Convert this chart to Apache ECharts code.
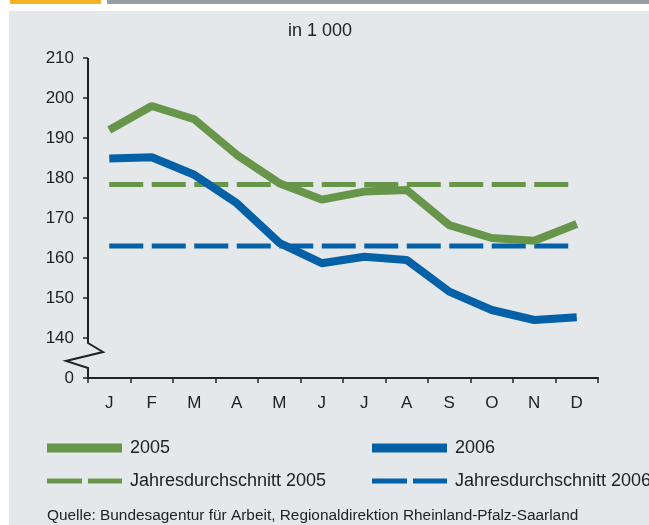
<!DOCTYPE html>
<html lang="de">
<head>
<meta charset="UTF-8">
<title>Arbeitslose Rheinland-Pfalz 2005/2006</title>
<script src="https://cdn.jsdelivr.net/npm/echarts@6/dist/echarts.min.js"></script>
<style>
  body { margin: 0; background: #fff; }
  .wrap { position: relative; width: 649px; height: 525px; overflow: hidden; }
  .panel { position: absolute; left: 9px; top: 11px; width: 640px; height: 514px; background: #e4e8eb; }
  .bar-o { position: absolute; left: 10px; top: 0; width: 91px; height: 4px; background: #f5b323; }
  .bar-g { position: absolute; left: 107px; top: 0; width: 542px; height: 4px; background: #979da3; }
  #chart { position: absolute; left: 0; top: 0; width: 649px; height: 525px; }
</style>
</head>
<body>
<div class="wrap">
  <div class="panel"></div>
  <div class="bar-o"></div>
  <div class="bar-g"></div>
  <div id="chart"></div>
</div>
<script>
// values in 1 000
var months = ['J', 'F', 'M', 'A', 'M', 'J', 'J', 'A', 'S', 'O', 'N', 'D'];
var y2005 = [192, 198, 194.7, 185.8, 178.7, 174.6, 176.6, 177, 168.2, 165, 164.3, 168.5];
var y2006 = [184.9, 185.2, 180.8, 173.7, 163.8, 158.7, 160.3, 159.5, 151.6, 147, 144.5, 145.2];
var avg2005 = 178.4;
var avg2006 = 163;
var yTicks = [130, 140, 150, 160, 170, 180, 190, 200, 210]; // 130 stands for the broken axis "0"

var green = '#67954a';
var blue = '#0461a8';
var ink = '#222222';
var font = "'Liberation Sans', Arial, sans-serif";

var chart = echarts.init(document.getElementById('chart'));

function legendAt(name, icon, h, left, top) {
  return {
    data: [{ name: name, icon: icon }],
    left: left, top: top, padding: 0,
    itemWidth: 75, itemHeight: h, itemGap: 0,
    selectedMode: false,
    itemStyle: { borderWidth: 0 },
    textStyle: { fontFamily: font, fontSize: 18, color: ink, padding: [0, 0, 0, 3] }
  };
}
var dashIcon = 'path://M0,0h35v5h-35z M41,0h34v5h-34z';

var option = {
  animation: false,
  title: [
    { text: 'in 1 000', left: 288, top: 22, padding: 0,
      textStyle: { fontFamily: font, fontSize: 18, fontWeight: 'normal', color: ink } },
    { text: 'Quelle: Bundesagentur für Arbeit, Regionaldirektion Rheinland-Pfalz-Saarland', left: 47, top: 508, padding: 0,
      textStyle: { fontFamily: font, fontSize: 15.4, fontWeight: 'normal', color: ink } }
  ],
  legend: [
    legendAt('2005', 'rect', 9, 47, 439),
    legendAt('2006', 'rect', 9, 372, 439),
    legendAt('Jahresdurchschnitt 2005', dashIcon, 5, 47, 472),
    legendAt('Jahresdurchschnitt 2006', dashIcon, 5, 372, 472)
  ],
  grid: { left: 88, right: 51, top: 58, bottom: 147 },
  xAxis: {
    type: 'category',
    data: months,
    boundaryGap: true,
    axisLine: { lineStyle: { color: ink, width: 2 } },
    axisTick: { show: true, length: 5, interval: 0, lineStyle: { color: ink, width: 1.5 } },
    axisLabel: { interval: 0, fontFamily: font, fontSize: 17, color: ink, margin: 17 },
    splitLine: { show: false }
  },
  yAxis: {
    type: 'value',
    min: yTicks[0], max: yTicks[yTicks.length - 1], interval: 10,
    axisLine: { show: false },
    axisTick: { show: true, length: 5, lineStyle: { color: ink, width: 1.5 } },
    axisLabel: {
      fontFamily: font, fontSize: 17, color: ink, margin: 14,
      formatter: function (v) { return v === yTicks[0] ? '0' : String(v); }
    },
    splitLine: { show: false }
  },
  series: [
    { name: 'Jahresdurchschnitt 2005', type: 'line', z: 2, symbol: 'none',
      data: [[0, avg2005], [months.length - 1, avg2005]],
      itemStyle: { color: green },
      lineStyle: { color: green, width: 5, type: [34, 8.5] } },
    { name: 'Jahresdurchschnitt 2006', type: 'line', z: 2, symbol: 'none',
      data: [[0, avg2006], [months.length - 1, avg2006]],
      itemStyle: { color: blue },
      lineStyle: { color: blue, width: 5, type: [34, 8.5] } },
    { name: '2006', type: 'line', z: 3, symbol: 'none', data: y2006,
      itemStyle: { color: blue },
      lineStyle: { color: blue, width: 8 } },
    { name: '2005', type: 'line', z: 4, symbol: 'none', data: y2005,
      itemStyle: { color: green },
      lineStyle: { color: green, width: 8 } }
  ]
};
chart.setOption(option);

// y axis line with the break zigzag near the bottom
var ax = 88;
function py(v) { return chart.convertToPixel({ yAxisIndex: 0 }, v); }
chart.setOption({
  graphic: [{
    type: 'polyline', z: 10,
    shape: { points: [
      [ax, py(210)], [ax, py(138.75)], [ax + 15, py(136.5)],
      [ax - 22, py(134.25)], [ax, py(132.5)], [ax, py(130)]
    ] },
    style: { stroke: ink, lineWidth: 2, fill: null }
  }]
});
</script>
</body>
</html>
